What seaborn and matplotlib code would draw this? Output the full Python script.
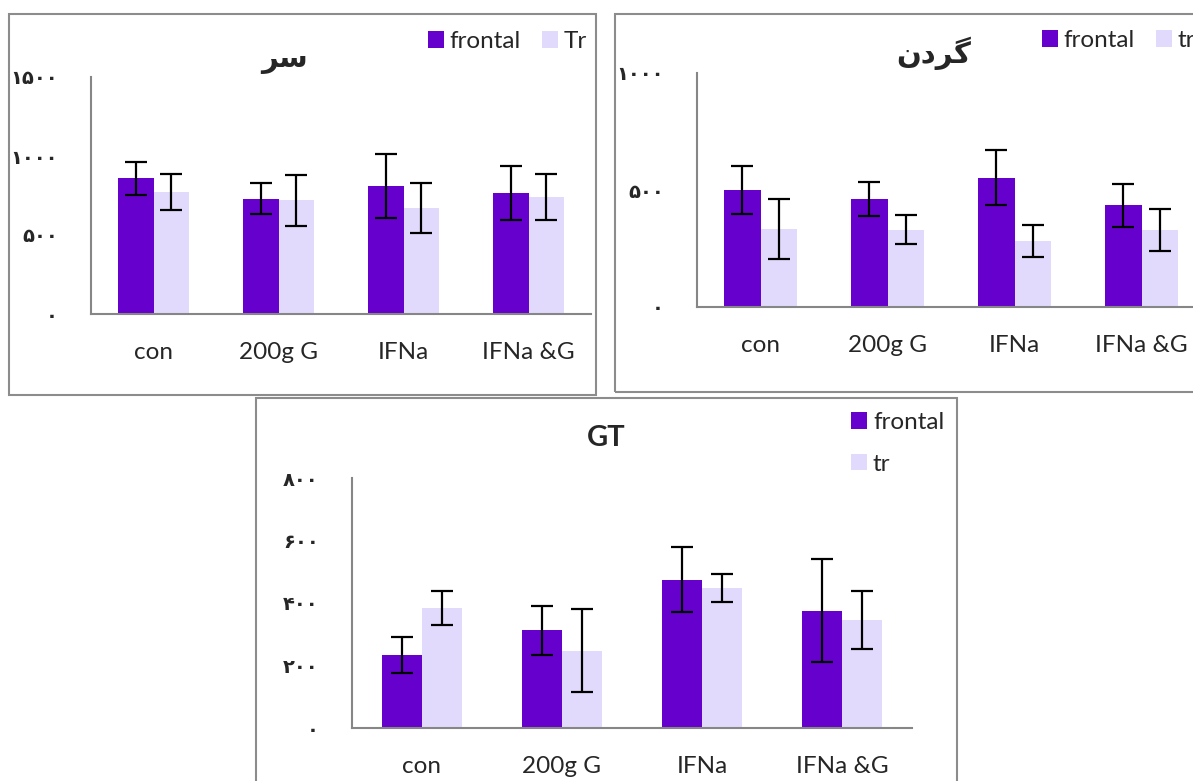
import numpy as np
import pandas as pd
import seaborn as sns
import matplotlib
matplotlib.use("Agg")
from matplotlib import pyplot as plt
from matplotlib.patches import Rectangle, Patch

groups = ["con", "200g G", "IFNa", "IFNa &G"]

# panel "sar" (head)
sar_frontal = [858, 730, 810, 764]
sar_frontal_err = [105, 98, 204, 172]
sar_tr = [774, 719, 669, 740]
sar_tr_err = [114, 161, 157, 147]

# panel "gardan" (neck)
gardan_frontal = [499, 460, 553, 435]
gardan_frontal_err = [103, 73, 118, 92]
gardan_tr = [333, 330, 282, 329]
gardan_tr_err = [128, 62, 67, 88]

# panel GT
gt_frontal = [233, 313, 475, 375]
gt_frontal_err = [57, 79, 104, 165]
gt_tr = [384, 248, 447, 345]
gt_tr_err = [54, 134, 45, 93]

sar_ticks = [0, 500, 1000, 1500]
sar_ticklabels = ["۰", "۵۰۰", "۱۰۰۰", "۱۵۰۰"]
gardan_ticks = [0, 500, 1000]
gardan_ticklabels = ["۰", "۵۰۰", "۱۰۰۰"]
gt_ticks = [0, 200, 400, 600, 800]
gt_ticklabels = ["۰", "۲۰۰", "۴۰۰", "۶۰۰", "۸۰۰"]

# matplotlib has no arabic shaping, so the titles are given as
# presentation forms in visual (left to right) order
sar_title = "\uFEAE\uFEB3"              # سر
gardan_title = "\uFEE5\uFEA9\uFEAE\uFB94"  # گردن
gt_title = "GT"

FRONTAL_COLOR = "#6600CC"
TR_COLOR = "#E2DAFC"
AXIS_GRAY = "#868686"

W, H = 1193, 781

sns.set_style("white")
plt.rcParams["font.family"] = ["Lato", "DejaVu Sans"]


def px_box(x0, y0, x1, y1):
    return [x0 / W, 1 - y1 / H, (x1 - x0) / W, (y1 - y0) / H]


def draw_panel(fig, border, axbox, frontal, frontal_err, tr, tr_err, tr_label,
               ymax, ticks, ticklabels, title, title_xy, title_family,
               legend_xy, ncol, labelspacing=0.5):
    x0, y0, x1, y1 = border
    fig.add_artist(Rectangle((x0 / W, 1 - y1 / H), (x1 - x0) / W, (y1 - y0) / H,
                             transform=fig.transFigure, fill=False,
                             edgecolor="#8c8c8c", linewidth=1.5))
    ax = fig.add_axes(px_box(*axbox))
    df = pd.DataFrame({
        "group": groups * 2,
        "value": list(frontal) + list(tr),
        "series": ["frontal"] * len(groups) + [tr_label] * len(groups),
    })
    sns.barplot(data=df, x="group", y="value", hue="series",
                palette=[FRONTAL_COLOR, TR_COLOR], width=0.575,
                saturation=1, errorbar=None, linewidth=0, legend=False, ax=ax)
    for cont, errs in zip(ax.containers, [frontal_err, tr_err]):
        xs = [b.get_x() + b.get_width() / 2 for b in cont]
        ys = [b.get_height() for b in cont]
        ax.errorbar(xs, ys, yerr=errs, fmt="none", ecolor="black",
                    elinewidth=1.6, capsize=8, capthick=1.6, zorder=5)
    ax.set_ylim(0, ymax)
    ax.set_xlim(-0.5, 3.5)
    ax.set_yticks(ticks)
    ax.set_yticklabels(ticklabels, family=["DejaVu Sans"], fontweight="bold",
                       fontsize=14)
    ax.tick_params(axis="y", length=0, pad=24)
    ax.tick_params(axis="x", length=0, pad=20, labelsize=17.5)
    ax.set_xlabel("")
    ax.set_ylabel("")
    for s in ["top", "right"]:
        ax.spines[s].set_visible(False)
    for s in ["left", "bottom"]:
        ax.spines[s].set_color(AXIS_GRAY)
        ax.spines[s].set_linewidth(1.5)
    ax.patch.set_alpha(0)

    fig.text(title_xy[0] / W, 1 - title_xy[1] / H, title, ha="center",
             va="center", fontsize=21, fontweight="bold", family=title_family)

    handles = [Patch(facecolor=FRONTAL_COLOR, edgecolor="none"),
               Patch(facecolor=TR_COLOR, edgecolor="none")]
    ax.legend(handles, ["frontal", tr_label], loc="upper left",
              bbox_to_anchor=(legend_xy[0] / W, 1 - legend_xy[1] / H),
              bbox_transform=fig.transFigure, frameon=False, ncol=ncol,
              fontsize=17.5, borderpad=0, borderaxespad=0, handlelength=0.65,
              handleheight=0.65, handletextpad=0.25, columnspacing=0.85,
              labelspacing=labelspacing)
    return ax


fig = plt.figure(figsize=(W / 100, H / 100), dpi=100)

draw_panel(fig, (9, 14, 596, 395), (91, 77, 591, 314),
           sar_frontal, sar_frontal_err, sar_tr, sar_tr_err, "Tr",
           1500, sar_ticks, sar_ticklabels, sar_title, (285, 60),
           ["DejaVu Sans"], (428, 31), 2)

draw_panel(fig, (615, 14, 1260, 392), (697, 73, 1205, 307),
           gardan_frontal, gardan_frontal_err, gardan_tr, gardan_tr_err, "tr",
           1000, gardan_ticks, gardan_ticklabels, gardan_title, (934, 53),
           ["DejaVu Sans"], (1042, 30), 2)

draw_panel(fig, (256, 398, 957, 820), (352, 478, 912, 728),
           gt_frontal, gt_frontal_err, gt_tr, gt_tr_err, "tr",
           800, gt_ticks, gt_ticklabels, gt_title, (606, 438),
           ["Lato", "DejaVu Sans"], (851, 412), 1, labelspacing=0.85)

fig.savefig("out.png", dpi=100)
